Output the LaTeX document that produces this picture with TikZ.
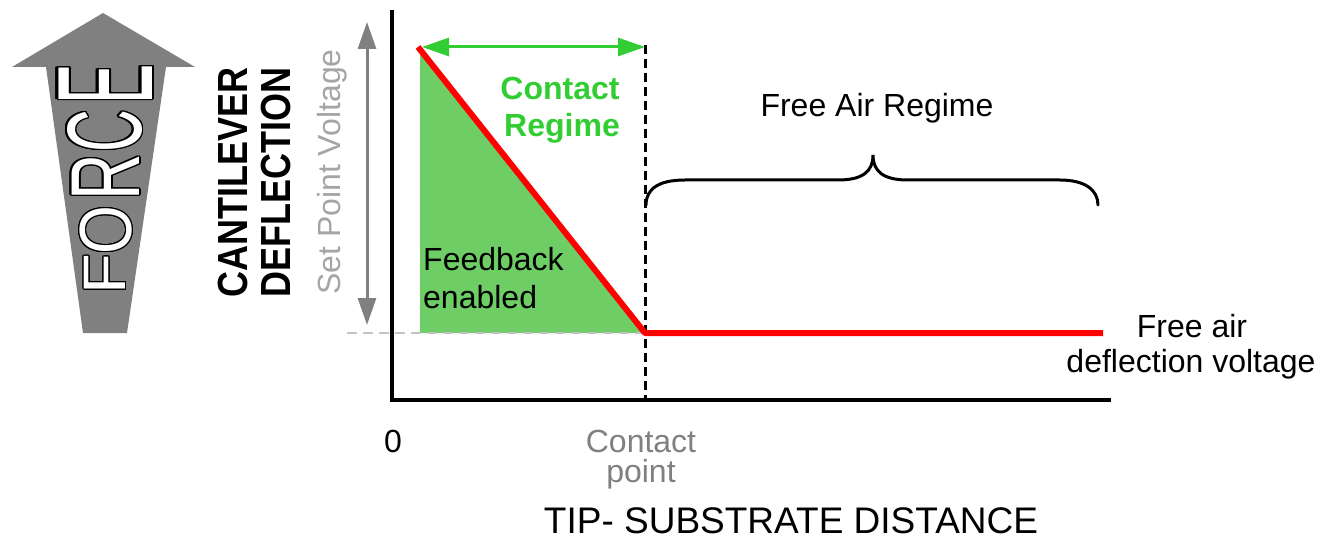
\documentclass[tikz,border=0pt]{standalone}
\usepackage{fontspec}
\setmainfont{Liberation Sans}
\usepackage{graphicx}
\usepackage{contour}
\contourlength{0.7pt}
\usetikzlibrary{arrows.meta}
\definecolor{limeg}{RGB}{50,205,50}
\definecolor{fillg}{RGB}{110,205,100}
\definecolor{midgray}{RGB}{128,128,128}
\definecolor{lightgray}{RGB}{165,165,165}
\definecolor{dashgray}{RGB}{195,195,195}
\definecolor{pureRed}{RGB}{255,0,0}
\begin{document}
\begin{tikzpicture}[x=1pt,y=-1pt,
  txt/.style={inner sep=0pt, font=\fontsize{32}{38}\selectfont},
  ttl/.style={inner sep=0pt, font=\fontsize{37}{42}\selectfont},
  axisline/.style={line width=4pt, line join=miter, black},
  curve/.style={line width=6pt, pureRed, line join=round},
  regarrow/.style={line width=3pt, {Triangle[length=27pt,width=18pt]}-{Triangle[length=27pt,width=18pt]}},
  letter/.style={inner sep=0pt, rotate=90, font=\fontsize{40}{40}\selectfont}
]
\useasboundingbox (0,0) rectangle (1320,540);

% FORCE arrow
\fill[midgray] (103,13) -- (195,67) -- (166,67) -- (127,333) -- (83,333) -- (46,67) -- (12,67) -- cycle;
\node[letter] (lE) at (106.5,84) {\scalebox{1.51}[3.4]{\color{white}\contour{black}{E}}};
\node[letter] (lC) at (105.5,131) {\scalebox{1.48}[2.65]{\color{white}\contour{black}{C}}};
\node[letter] (lR) at (106.5,177) {\scalebox{1.61}[2.45]{\color{white}\contour{black}{R}}};
\node[letter] (lO) at (106.5,230) {\scalebox{1.57}[1.85]{\color{white}\contour{black}{O}}};
\node[letter] (lF) at (105.5,274) {\scalebox{1.67}[1.5]{\color{white}\contour{black}{F}}};

% y labels
\node[inner sep=0pt, rotate=90, anchor=base, font=\fontsize{36}{40}\selectfont\bfseries] (cant) at (247,182.5) {\scalebox{1}[1.17]{CANTILEVER}};
\node[inner sep=0pt, rotate=90, anchor=base, font=\fontsize{36}{40}\selectfont\bfseries] (defl) at (290,182.5) {\scalebox{1}[1.17]{DEFLECTION}};
\node[txt, rotate=90, anchor=base, text=lightgray] (spv) at (340,172) {Set Point Voltage};

% set point arrow
\coordinate (spt) at (367,22);
\coordinate (spb) at (367,325);
\draw[regarrow, midgray] (spt) -- (spb);

% green feedback area
\coordinate (ctop) at (420,48);
\coordinate (cbl) at (420,333);
\coordinate (cp) at (645,333);
\fill[fillg] (ctop) -- (cbl) -- (cp) -- cycle;

% gray dashed set point level
\coordinate (gl) at (347,333);
\draw[dashgray, line width=2.5pt, dash pattern=on 10pt off 6pt] (gl) -- (cp);

% axes
\coordinate (yt) at (392,10);
\coordinate (o) at (392,400);
\coordinate (xe) at (1111,400);
\draw[axisline] (yt) -- (o) -- (xe);

% contact point dashed line
\coordinate (ct) at (645,45);
\coordinate (cb) at (645,400);
\draw[black, line width=3pt, dash pattern=on 9pt off 5pt] (ct) -- (cb);

% red curve
\coordinate (rs) at (418,47);
\coordinate (re) at (1103,333);
\draw[curve] (rs) -- (cp) -- (re);

% contact regime arrow
\coordinate (al) at (422,47);
\coordinate (ar) at (645,47);
\draw[regarrow, limeg] (al) -- (ar);

% brace
\draw[line width=3pt, line cap=round] (646,205) .. controls (646,188) and (660,180) .. (685,180) -- (838,180) .. controls (862,180) and (873,172) .. (873,155) .. controls (873,172) and (884,180) .. (908,180) -- (1060,180) .. controls (1085,180) and (1098,190) .. (1098,205);

% texts
\node[txt, anchor=base, font=\fontsize{32}{38}\selectfont\bfseries, text=limeg] (cr1) at (560,100) {Contact};
\node[txt, anchor=base, font=\fontsize{32}{38}\selectfont\bfseries, text=limeg] (cr2) at (562,137) {Regime};
\node[txt, anchor=base] (far) at (877,117) {Free Air Regime};
\node[txt, anchor=base west] (fb1) at (423,270) {Feedback};
\node[txt, anchor=base west] (fb2) at (423,308) {enabled};
\node[txt, anchor=base] (fa1) at (1192,337) {Free air};
\node[txt, anchor=base] (fa2) at (1191,372) {deflection voltage};
\node[txt, anchor=base] (zero) at (393,452) {0};
\node[txt, anchor=base, text=midgray] (cp1) at (641,452) {Contact};
\node[txt, anchor=base, text=midgray] (cp2) at (641,482) {point};
\node[ttl, anchor=base] (title) at (791,533) {TIP- SUBSTRATE DISTANCE};
\end{tikzpicture}
\end{document}
